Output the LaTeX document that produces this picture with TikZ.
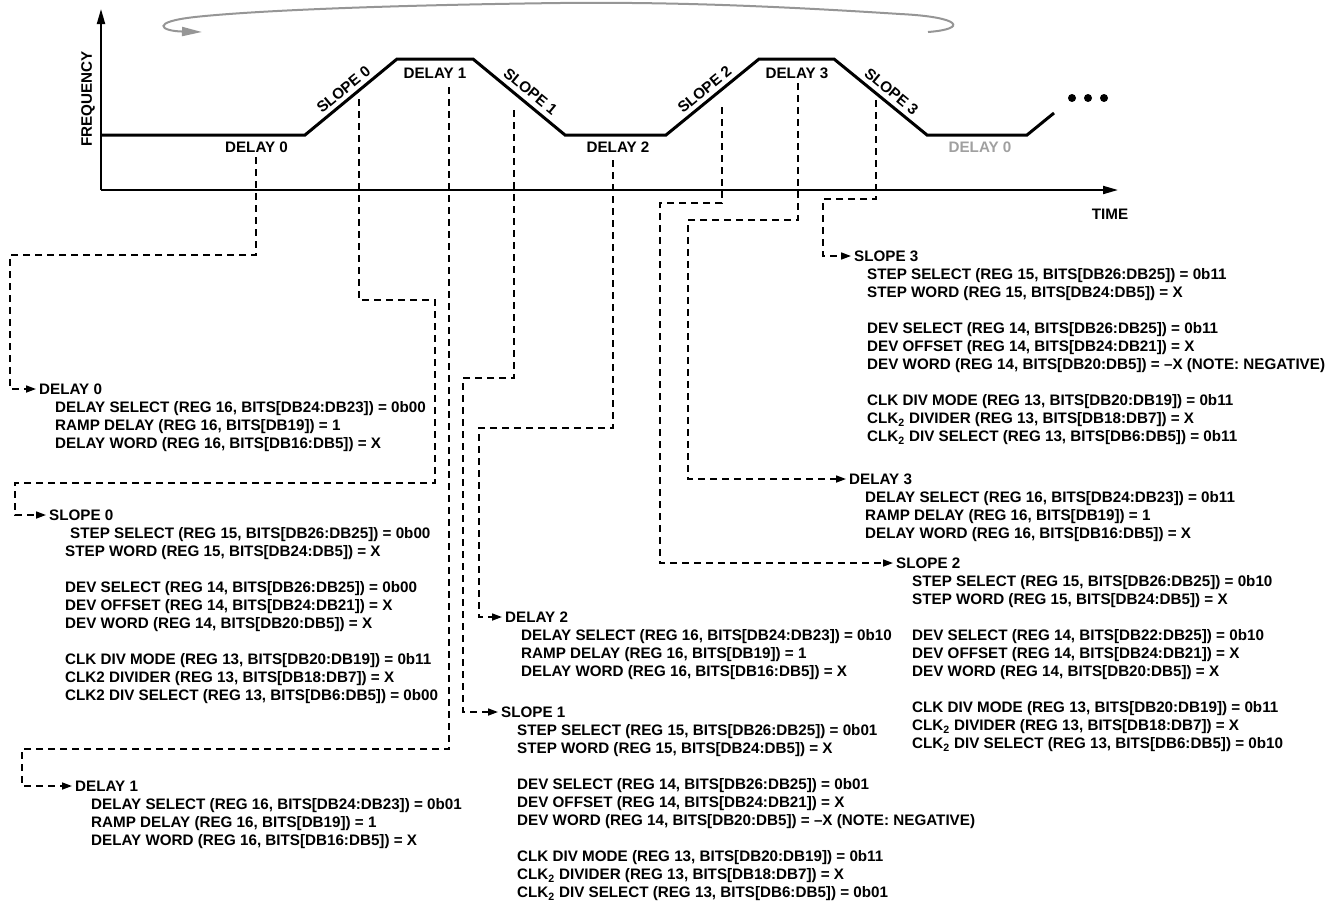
\documentclass[tikz,border=0pt]{standalone}
\usepackage{fontspec}
\setmainfont{Liberation Sans}
\usetikzlibrary{arrows.meta,calc}
\definecolor{loopgray}{RGB}{150,150,150}
\definecolor{labgray}{RGB}{160,160,160}
\begin{document}
\begin{tikzpicture}[x=1pt,y=-1pt,
  font=\fontsize{15.2}{18}\selectfont\bfseries,
  axis/.style={line width=2pt,-{Triangle[length=15pt,width=8pt]}},
  wave/.style={line width=3pt,line join=miter},
  link/.style={line width=1.6pt,dash pattern=on 7pt off 5pt,-{Triangle[length=10pt,width=7pt]}},
  hdr/.style={anchor=west,inner xsep=3pt,inner ysep=0pt},
  regs/.style={anchor=north west,inner sep=0pt,align=left},
  lab/.style={inner sep=0pt}]
  \useasboundingbox (0,0) rectangle (1335,903);

  % axes and ramp
  \draw[axis] (101,190) -- (1118,190);
  \draw[axis] (101,190) -- (101,9);
  \node[lab] (time) at (1110,214) {TIME};
  \node[lab,rotate=90] (freq) at (88,99) {FREQUENCY};
  \draw[wave] (101,135) -- (305,135) -- (397,59) -- (473,59) -- (565,135) -- (666,135)
    -- (759,59) -- (834,59) -- (927,135) -- (1027,135) -- (1054,113);
  \foreach \x in {1072,1088,1104} \fill (\x,98) circle (4pt);
  \draw[loopgray,line width=2pt,-{Triangle[length=20pt,width=9pt]}]
    (928,32) .. controls (968,29) and (962,17) .. (900,14)
    .. controls (760,5) and (660,2) .. (560,3)
    .. controls (400,5) and (260,10) .. (195,17)
    .. controls (150,22) and (160,31) .. (202,32);

  % segment labels
  \node[lab] (lbd0) at (256.5,147) {DELAY 0};
  \node[lab] (lbd1) at (435,73) {DELAY 1};
  \node[lab] (lbd2) at (618,147) {DELAY 2};
  \node[lab] (lbd3) at (797,73) {DELAY 3};
  \node[lab,labgray] (lbd0b) at (980,147) {DELAY 0};
  \node[lab,rotate=39.6] (lbs0) at (343.5,89.5) {SLOPE 0};
  \node[lab,rotate=-39.6] (lbs1) at (530.5,91.5) {SLOPE 1};
  \node[lab,rotate=39.6] (lbs2) at (704.5,89.5) {SLOPE 2};
  \node[lab,rotate=-39.6] (lbs3) at (891.5,91.5) {SLOPE 3};

  % register settings
  \node[hdr] (d0) at (36,389) {DELAY 0};
  \node[regs] (d0r) at ($(d0.west)+(19,12.5)$) {DELAY SELECT (REG 16, BITS[DB24:DB23]) = 0b00\\
    RAMP DELAY (REG 16, BITS[DB19]) = 1\\
    DELAY WORD (REG 16, BITS[DB16:DB5]) = X};

  \node[hdr] (s0) at (46,515) {SLOPE 0};
  \node[regs] (s0r) at ($(s0.west)+(19,12.5)$) {\hspace*{5pt}STEP SELECT (REG 15, BITS[DB26:DB25]) = 0b00\\
    STEP WORD (REG 15, BITS[DB24:DB5]) = X\\[18pt]
    DEV SELECT (REG 14, BITS[DB26:DB25]) = 0b00\\
    DEV OFFSET (REG 14, BITS[DB24:DB21]) = X\\
    DEV WORD (REG 14, BITS[DB20:DB5]) = X\\[18pt]
    CLK DIV MODE (REG 13, BITS[DB20:DB19]) = 0b11\\
    CLK2 DIVIDER (REG 13, BITS[DB18:DB7]) = X\\
    CLK2 DIV SELECT (REG 13, BITS[DB6:DB5]) = 0b00};

  \node[hdr] (d1) at (72,786) {DELAY 1};
  \node[regs] (d1r) at ($(d1.west)+(19,12.5)$) {DELAY SELECT (REG 16, BITS[DB24:DB23]) = 0b01\\
    RAMP DELAY (REG 16, BITS[DB19]) = 1\\
    DELAY WORD (REG 16, BITS[DB16:DB5]) = X};

  \node[hdr] (d2) at (502,617) {DELAY 2};
  \node[regs] (d2r) at ($(d2.west)+(19,12.5)$) {DELAY SELECT (REG 16, BITS[DB24:DB23]) = 0b10\\
    RAMP DELAY (REG 16, BITS[DB19]) = 1\\
    DELAY WORD (REG 16, BITS[DB16:DB5]) = X};

  \node[hdr] (s1) at (498,712) {SLOPE 1};
  \node[regs] (s1r) at ($(s1.west)+(19,12.5)$) {STEP SELECT (REG 15, BITS[DB26:DB25]) = 0b01\\
    STEP WORD (REG 15, BITS[DB24:DB5]) = X\\[18pt]
    DEV SELECT (REG 14, BITS[DB26:DB25]) = 0b01\\
    DEV OFFSET (REG 14, BITS[DB24:DB21]) = X\\
    DEV WORD (REG 14, BITS[DB20:DB5]) = –X (NOTE: NEGATIVE)\\[18pt]
    CLK DIV MODE (REG 13, BITS[DB20:DB19]) = 0b11\\
    CLK\textsubscript{2} DIVIDER (REG 13, BITS[DB18:DB7]) = X\\
    CLK\textsubscript{2} DIV SELECT (REG 13, BITS[DB6:DB5]) = 0b01};

  \node[hdr] (s3) at (851,256) {SLOPE 3};
  \node[regs] (s3r) at ($(s3.west)+(16,12.5)$) {STEP SELECT (REG 15, BITS[DB26:DB25]) = 0b11\\
    STEP WORD (REG 15, BITS[DB24:DB5]) = X\\[18pt]
    DEV SELECT (REG 14, BITS[DB26:DB25]) = 0b11\\
    DEV OFFSET (REG 14, BITS[DB24:DB21]) = X\\
    DEV WORD (REG 14, BITS[DB20:DB5]) = –X (NOTE: NEGATIVE)\\[18pt]
    CLK DIV MODE (REG 13, BITS[DB20:DB19]) = 0b11\\
    CLK\textsubscript{2} DIVIDER (REG 13, BITS[DB18:DB7]) = X\\
    CLK\textsubscript{2} DIV SELECT (REG 13, BITS[DB6:DB5]) = 0b11};

  \node[hdr] (d3) at (846,479) {DELAY 3};
  \node[regs] (d3r) at ($(d3.west)+(19,12.5)$) {DELAY SELECT (REG 16, BITS[DB24:DB23]) = 0b11\\
    RAMP DELAY (REG 16, BITS[DB19]) = 1\\
    DELAY WORD (REG 16, BITS[DB16:DB5]) = X};

  \node[hdr] (s2) at (893,563) {SLOPE 2};
  \node[regs] (s2r) at ($(s2.west)+(19,12.5)$) {STEP SELECT (REG 15, BITS[DB26:DB25]) = 0b10\\
    STEP WORD (REG 15, BITS[DB24:DB5]) = X\\[18pt]
    DEV SELECT (REG 14, BITS[DB22:DB25]) = 0b10\\
    DEV OFFSET (REG 14, BITS[DB24:DB21]) = X\\
    DEV WORD (REG 14, BITS[DB20:DB5]) = X\\[18pt]
    CLK DIV MODE (REG 13, BITS[DB20:DB19]) = 0b11\\
    CLK\textsubscript{2} DIVIDER (REG 13, BITS[DB18:DB7]) = X\\
    CLK\textsubscript{2} DIV SELECT (REG 13, BITS[DB6:DB5]) = 0b10};

  % dashed leaders from the ramp to the settings
  \coordinate (d0top) at (256,157);
  \coordinate (s0top) at (359,99);
  \coordinate (d1top) at (449,87);
  \coordinate (s1top) at (514,110);
  \coordinate (d2top) at (613,160);
  \coordinate (s2top) at (722,107);
  \coordinate (d3top) at (798,83);
  \coordinate (s3top) at (876,100);
  \draw[link] (d0top) |- (10,255) |- (d0.west);
  \draw[link] (s0top) |- (435,300) |- (15,483) |- (s0.west);
  \draw[link] (d1top) |- (22,749) |- (d1.west);
  \draw[link] (s1top) |- (463,378) |- (s1.west);
  \draw[link] (d2top) |- (479,428) |- (d2.west);
  \draw[link] (s2top) |- (660,203) |- (s2.west);
  \draw[link] (d3top) |- (688,220) |- (d3.west);
  \draw[link] (s3top) |- (823,199) |- (s3.west);
\end{tikzpicture}
\end{document}
